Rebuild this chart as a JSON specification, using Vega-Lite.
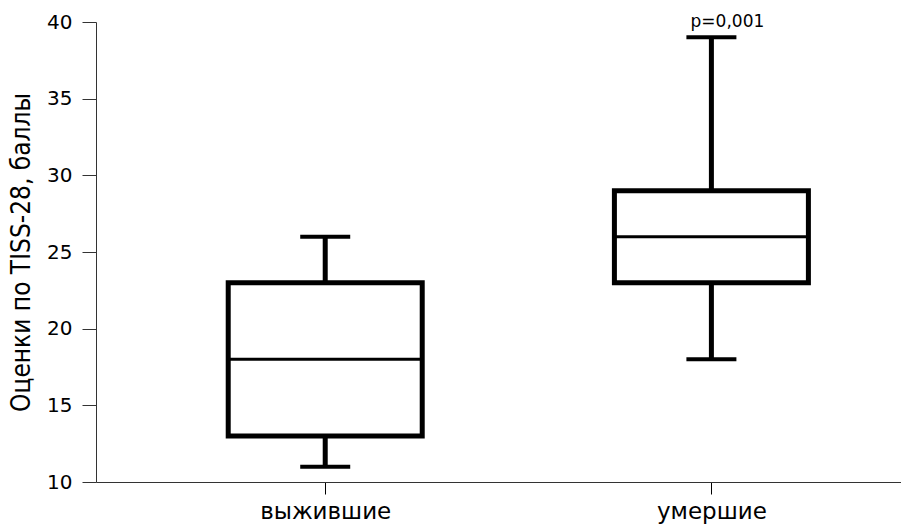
{
  "$schema": "https://vega.github.io/schema/vega-lite/v6.json",
  "width": 805,
  "height": 460,
  "autosize": "none",
  "padding": {"left": 96, "top": 22, "right": 0, "bottom": 45},
  "background": "white",
  "config": {"view": {"stroke": null}},
  "data": {"values": [
    {"group": "выжившие", "pos": 1, "lower": 11, "q1": 13, "median": 18, "q3": 23, "upper": 26},
    {"group": "умершие", "pos": 2, "lower": 18, "q1": 23, "median": 26, "q3": 29, "upper": 39}
  ]},
  "encoding": {
    "x": {
      "field": "pos", "type": "quantitative",
      "scale": {"domain": [0.4194, 2.478], "nice": false, "zero": false},
      "axis": {
        "title": null, "values": [1, 2], "grid": false,
        "labelExpr": "datum.value == 1 ? 'выжившие' : 'умершие'",
        "labelFont": "DejaVu Sans", "labelFontSize": 23, "labelColor": "black",
        "labelPadding": 6, "tickSize": 12, "tickColor": "black", "domainColor": "#333", "tickWidth": 1
      }
    }
  },
  "layer": [
    {
      "mark": {"type": "rule", "strokeWidth": 5, "color": "black"},
      "encoding": {
        "y": {
          "field": "lower", "type": "quantitative",
          "scale": {"domain": [10, 40], "nice": false, "zero": false},
          "axis": {
            "title": "Оценки по TISS-28, баллы", "values": [10, 15, 20, 25, 30, 35, 40], "grid": false,
            "titleFont": "DejaVu Sans Condensed", "titleFontSize": 26, "titleFontWeight": "normal", "titleColor": "black",
            "titlePadding": 12,
            "labelFont": "DejaVu Sans", "labelFontSize": 20, "labelColor": "black", "labelPadding": 10,
            "tickSize": 14, "tickColor": "#333", "domainColor": "#333"
          }
        },
        "y2": {"field": "upper"}
      }
    },
    {
      "mark": {"type": "tick", "orient": "horizontal", "size": 50, "thickness": 4, "color": "black", "opacity": 1},
      "encoding": {"y": {"field": "lower", "type": "quantitative"}}
    },
    {
      "mark": {"type": "tick", "orient": "horizontal", "size": 50, "thickness": 4, "color": "black", "opacity": 1},
      "encoding": {"y": {"field": "upper", "type": "quantitative"}}
    },
    {
      "mark": {"type": "bar", "size": 194, "fill": "white", "stroke": "black", "strokeWidth": 5},
      "encoding": {"y": {"field": "q1", "type": "quantitative"}, "y2": {"field": "q3"}}
    },
    {
      "mark": {"type": "tick", "orient": "horizontal", "size": 194, "thickness": 3, "color": "black", "opacity": 1},
      "encoding": {"y": {"field": "median", "type": "quantitative"}}
    },
    {
      "data": {"values": [{"pos": 2, "y": 40, "label": "p=0,001"}]},
      "mark": {"type": "text", "font": "DejaVu Sans", "fontSize": 17, "color": "black", "dx": 16, "baseline": "middle"},
      "encoding": {"y": {"field": "y", "type": "quantitative"}, "text": {"field": "label"}}
    }
  ]
}
